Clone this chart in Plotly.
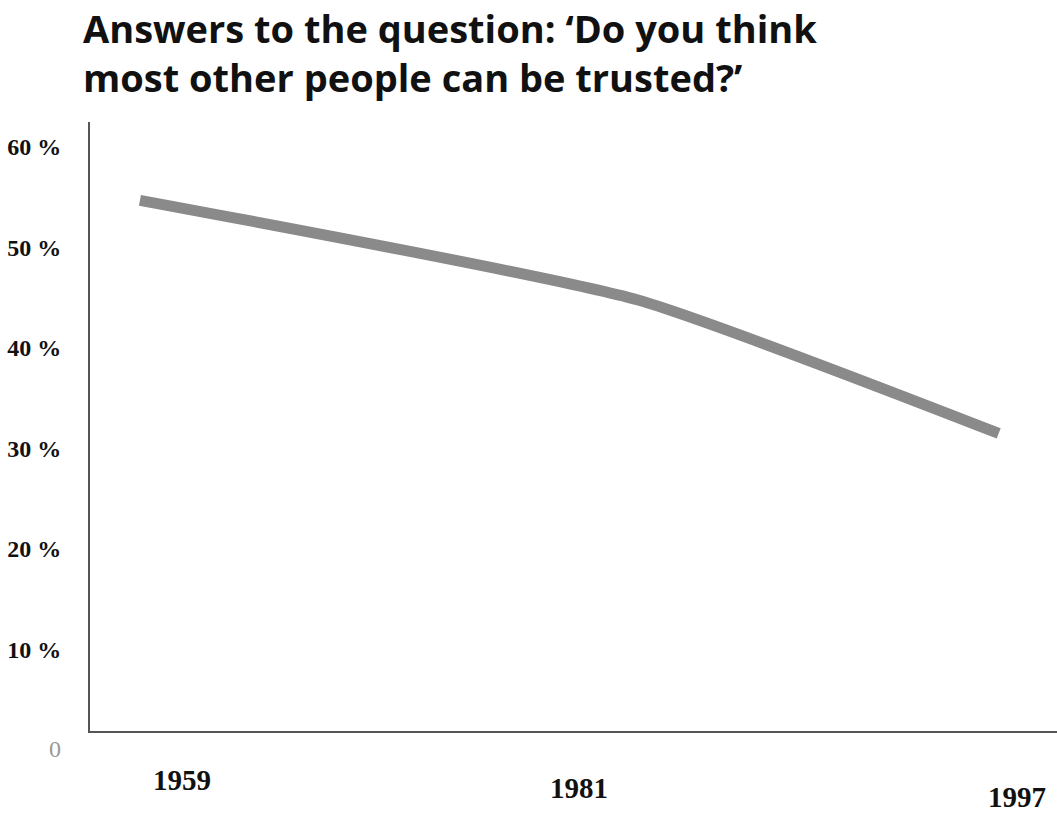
import plotly.graph_objects as go

# ---- data ----
years = [1959, 1981, 1997]
trust_pct = [54.7, 44.8, 31.5]
ytick_vals = [10, 20, 30, 40, 50, 60]
ytick_text = ["10 %", "20 %", "30 %", "40 %", "50 %", "60 %"]
title_text = ("Answers to the question: \u2018Do you think<br>"
              "most other people can be trusted?\u2019")

W, H = 1057, 813
ML, MT, MB, MR = 90, 122, 813 - 731, 0
plot_w = W - ML - MR
plot_h = H - MT - MB

# label offsets (style): (xshift, yshift) in px relative to data x / axis bottom
label_offsets = {1959: (42, -49), 1981: (-58, -57), 1997: (18, -66)}

serif = "Liberation Serif, Times New Roman, serif"
title_font = "Open Sans, Lato, sans-serif"

fig = go.Figure()
fig.add_trace(go.Scatter(
    x=years, y=trust_pct, mode="lines",
    line=dict(color="#8a8a8a", width=11, shape="spline", smoothing=0.5),
    hoverinfo="skip", showlegend=False,
))

annotations = []
for yr in years:
    dx, dy = label_offsets[yr]
    annotations.append(dict(
        x=yr, y=0, xref="x", yref="paper", text=f"<b>{yr}</b>",
        showarrow=False, xanchor="center", yanchor="middle",
        xshift=dx, yshift=dy,
        font=dict(family=serif, size=29, color="#111"),
    ))
# zero label on y axis (0 sits just below the drawn axis line)
annotations.append(dict(
    x=0, y=0, xref="paper", yref="paper", text="0", showarrow=False,
    xanchor="center", yanchor="middle", xshift=-35, yshift=-18,
    font=dict(family=serif, size=24, color="#999"),
))
# title
annotations.append(dict(
    x=(81 - ML) / plot_w, y=1 + MT / plot_h, xref="paper", yref="paper",
    text=f"<b>{title_text}</b>", showarrow=False, xanchor="left", yanchor="top",
    align="left",
    font=dict(family=title_font, size=38, color="#111"),
))

fig.update_layout(
    width=W, height=H,
    margin=dict(l=ML, r=MR, t=MT, b=MB, pad=0),
    paper_bgcolor="white", plot_bgcolor="white",
    showlegend=False,
    annotations=annotations,
    xaxis=dict(range=[1956.79, 1999.58], showgrid=False, zeroline=False,
               showticklabels=False, ticks="", showline=True,
               linecolor="#555", linewidth=2, fixedrange=True),
    yaxis=dict(range=[1.89, 62.49], showgrid=False, zeroline=False,
               tickvals=ytick_vals, ticktext=ytick_text, ticks="",
               ticklabelstandoff=22, showline=True, linecolor="#555", linewidth=2,
               tickfont=dict(family=serif, size=24, color="#111", weight="bold"),
               fixedrange=True),
)

fig.write_html("out.html",
               config={"displayModeBar": False},
               post_script="document.body.style.margin='0';document.body.style.overflow='hidden';")
